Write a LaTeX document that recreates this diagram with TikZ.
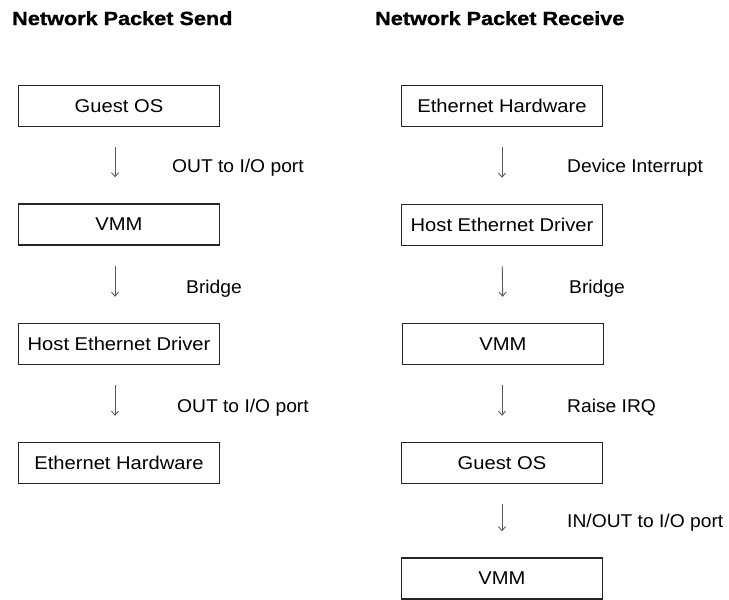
\documentclass[tikz,border=0pt]{standalone}
\usepackage{fontspec}
\setmainfont{Liberation Sans}[FakeStretch=1.09]
\newfontfamily\labelfont{Liberation Sans}[FakeStretch=1.04]
\newfontfamily\titlefont{Liberation Sans}[FakeStretch=1.14, FakeBold=1.2]
\usetikzlibrary{arrows.meta}
\begin{document}
\begin{tikzpicture}[x=1pt,y=-1pt,
  box/.style={draw=black!85, line width=1.4pt, minimum width=201pt, minimum height=41pt,
    inner sep=0pt, font=\fontsize{18.5}{20}\selectfont},
  lbl/.style={anchor=base west, inner sep=0pt, font=\labelfont\fontsize{18.5}{20}\selectfont},
  ttl/.style={anchor=base west, inner sep=0pt, font=\titlefont\fontsize{19}{20}\selectfont\bfseries},
  flow/.style={draw=black!65, line width=0.9pt, -{Straight Barb[length=4pt,width=7pt]},
    shorten <=20pt, shorten >=26pt}]
\useasboundingbox (0,0) rectangle (729,600);

% titles
\node[ttl] (tsend) at (12,25) {Network Packet Send};
\node[ttl] (trecv) at (375,25) {Network Packet Receive};

% send path
\node[box] (sg) at (119,106) {Guest OS};
\node[box] (sv) at (119,224.5) {VMM};
\node[box] (sh) at (119,344) {Host Ethernet Driver};
\node[box] (se) at (119,463) {Ethernet Hardware};

\draw[flow] ([xshift=-4pt]sg.south) -- ([xshift=-4pt]sv.north);
\draw[flow] ([xshift=-4pt]sv.south) -- ([xshift=-4pt]sh.north);
\draw[flow] ([xshift=-4pt]sh.south) -- ([xshift=-4pt]se.north);

\node[lbl] (ls1) at (172,172) {OUT to I/O port};
\node[lbl] (ls2) at (186,293) {Bridge};
\node[lbl] (ls3) at (177,412) {OUT to I/O port};

% receive path
\node[box] (re) at (502,106) {Ethernet Hardware};
\node[box] (rh) at (502,225) {Host Ethernet Driver};
\node[box] (rv) at (503,344) {VMM};
\node[box] (rg) at (502,463) {Guest OS};
\node[box] (rv2) at (502,578.5) {VMM};

\draw[flow] (re.south) -- (rh.north);
\draw[flow] (rh.south) -- (rv.north);
\draw[flow] ([xshift=-1pt]rv.south) -- (rg.north);
\draw[flow] (rg.south) -- (rv2.north);

\node[lbl] (lr1) at (567,172) {Device Interrupt};
\node[lbl] (lr2) at (569,293) {Bridge};
\node[lbl] (lr3) at (567,412) {Raise IRQ};
\node[lbl] (lr4) at (567,527) {IN/OUT to I/O port};
\end{tikzpicture}
\end{document}
